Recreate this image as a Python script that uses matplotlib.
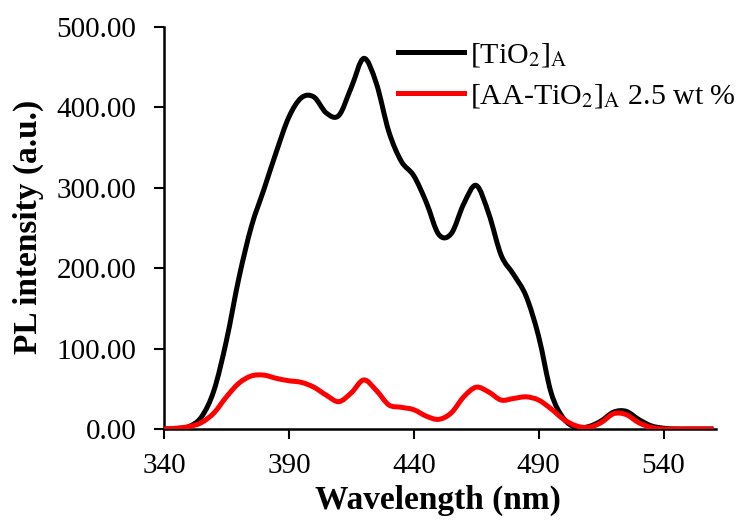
import matplotlib
matplotlib.use("Agg")
import matplotlib.pyplot as plt
from matplotlib.path import Path
from matplotlib.patches import PathPatch
from matplotlib.lines import Line2D
from matplotlib.ticker import FormatStrFormatter

# values
wavelength = [340, 345, 350, 355, 360, 365, 370, 375, 380, 385, 390, 395, 400,
              405, 410, 415, 420, 425, 430, 435, 440, 445, 450, 455, 460, 465,
              470, 475, 480, 485, 490, 495, 500, 505, 510, 515, 520, 525, 530,
              535, 540, 545, 550, 555, 560]
tio2 = [0, 0.5, 3, 15, 48, 110, 188, 252, 298, 345, 388, 412, 413,
        393, 390, 425, 461, 430, 370, 333, 315, 282, 242, 243, 280, 303,
        268, 216, 192, 165, 115, 45, 13, 2, 3, 10, 21, 22, 12,
        4, 1, 0, 0, 0, 0]
aa_tio2 = [0, 1, 3, 8, 20, 40, 57, 66, 67, 63, 60, 58, 52,
           42, 34, 45, 61, 48, 30, 27, 24, 16, 12, 20, 40, 52,
           46, 36, 38, 40, 36, 25, 12, 4, 2, 8, 19, 18, 8,
           2, 0, 0, 0, 0, 0]

labels = [r'[TiO$_2$]$_\mathrm{A}$', r'[AA-TiO$_2$]$_\mathrm{A}$ 2.5 wt %']
colors = ['black', '#ff0000']
x_ticks = [340, 390, 440, 490, 540]
y_ticks = [0, 100, 200, 300, 400, 500]

plt.rcParams['font.family'] = ['Liberation Serif', 'DejaVu Serif']
plt.rcParams['mathtext.fontset'] = 'stix'


def smooth_path(xs, ys):
    # Excel style "smoothed line": bezier segments through the points
    n = len(xs)
    verts = [(xs[0], ys[0])]
    codes = [Path.MOVETO]
    for i in range(n - 1):
        i0 = max(i - 1, 0)
        i3 = min(i + 2, n - 1)
        c1 = (xs[i] + (xs[i + 1] - xs[i0]) / 6, ys[i] + (ys[i + 1] - ys[i0]) / 6)
        c2 = (xs[i + 1] - (xs[i3] - xs[i]) / 6, ys[i + 1] - (ys[i3] - ys[i]) / 6)
        verts += [c1, c2, (xs[i + 1], ys[i + 1])]
        codes += [Path.CURVE4] * 3
    return Path(verts, codes)


fig = plt.figure(figsize=(7.48, 5.23), dpi=100)
ax = fig.add_axes([164/748, 1 - 429/523, (716 - 164)/748, (429 - 27)/523])

for ys, c in zip([tio2, aa_tio2], colors):
    ax.add_patch(PathPatch(smooth_path(wavelength, ys), fill=False,
                           edgecolor=c, lw=3.6, joinstyle='round',
                           capstyle='butt', zorder=3))

ax.set_xlim(340, 561)
ax.set_ylim(0, 500)
ax.set_xticks(x_ticks)
ax.set_yticks(y_ticks)
ax.yaxis.set_major_formatter(FormatStrFormatter('%.2f'))
ax.tick_params(labelsize=21, width=1.5, length=7, direction='out')
ax.tick_params(axis='y', pad=13)
ax.tick_params(axis='x', pad=10)

for side in ['top', 'right']:
    ax.spines[side].set_visible(False)
for side in ['left', 'bottom']:
    ax.spines[side].set_linewidth(1.8)

ax.set_xlabel('Wavelength (nm)', fontsize=24, fontweight='bold')
ax.xaxis.set_label_coords((438 - 164) / 552, -(485 - 429) / 402)
ax.set_ylabel('PL intensity (a.u.)', fontsize=24, fontweight='bold')
ax.yaxis.set_label_coords(-(164 - 44) / 552, (429 - 227) / 402)

handles = [Line2D([], [], color=c, lw=3.6) for c in colors]
ax.legend(handles, labels, loc='upper left',
          bbox_to_anchor=(398/748, 1 - 41/523),
          bbox_transform=fig.transFigure, frameon=False, fontsize=21.5,
          handlelength=2.2, handletextpad=0.2, labelspacing=0.45,
          borderpad=0, borderaxespad=0)

fig.savefig('out.png', dpi=100)
